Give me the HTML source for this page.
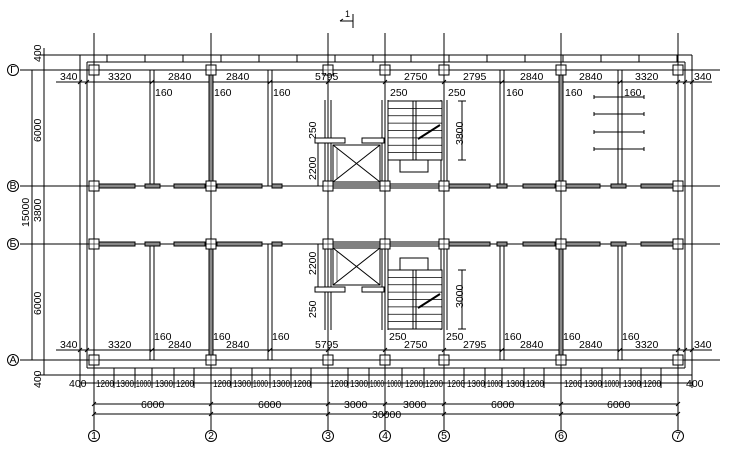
<!DOCTYPE html>
<html><head><meta charset="utf-8"><style>
html,body{margin:0;padding:0;background:#fff;}
svg{display:block;}
text{font-family:"Liberation Sans",sans-serif;font-size:10.5px;fill:#000;}
</style></head><body>
<svg id="s" width="740" height="450" viewBox="0 0 740 450" xmlns="http://www.w3.org/2000/svg" stroke="#000" stroke-width="1" fill="none">
<g id="g"></g>
<g stroke="none">
<text x="60" y="80">340</text><text x="108" y="80">3320</text><text x="168" y="80">2840</text><text x="226" y="80">2840</text>
<text x="315" y="80">5795</text><text x="404" y="80">2750</text><text x="463" y="80">2795</text><text x="520" y="80">2840</text>
<text x="579" y="80">2840</text><text x="635" y="80">3320</text><text x="694" y="80">340</text>
<text x="155" y="96">160</text><text x="214" y="96">160</text><text x="273" y="96">160</text><text x="390" y="96">250</text><text x="448" y="96">250</text>
<text x="506" y="96">160</text><text x="565" y="96">160</text><text x="624" y="96">160</text>
<text x="60" y="348">340</text><text x="108" y="348">3320</text><text x="168" y="348">2840</text><text x="226" y="348">2840</text>
<text x="315" y="348">5795</text><text x="404" y="348">2750</text><text x="463" y="348">2795</text><text x="520" y="348">2840</text>
<text x="579" y="348">2840</text><text x="635" y="348">3320</text><text x="694" y="348">340</text>
<text x="154" y="340">160</text><text x="213" y="340">160</text><text x="272" y="340">160</text><text x="389" y="340">250</text><text x="446" y="340">250</text>
<text x="504" y="340">160</text><text x="563" y="340">160</text><text x="622" y="340">160</text>
<g style="font-size:10.5px">
<text x="69" y="387">400</text>
<text x="96" y="387" textLength="18" lengthAdjust="spacingAndGlyphs">1200</text><text x="116" y="387" textLength="18" lengthAdjust="spacingAndGlyphs">1300</text><text x="136" y="387" textLength="15" lengthAdjust="spacingAndGlyphs">1000</text><text x="155" y="387" textLength="18" lengthAdjust="spacingAndGlyphs">1300</text><text x="176" y="387" textLength="18" lengthAdjust="spacingAndGlyphs">1200</text>
<text x="213" y="387" textLength="18" lengthAdjust="spacingAndGlyphs">1200</text><text x="233" y="387" textLength="18" lengthAdjust="spacingAndGlyphs">1300</text><text x="253" y="387" textLength="15" lengthAdjust="spacingAndGlyphs">1000</text><text x="272" y="387" textLength="18" lengthAdjust="spacingAndGlyphs">1300</text><text x="293" y="387" textLength="18" lengthAdjust="spacingAndGlyphs">1200</text>
<text x="330" y="387" textLength="18" lengthAdjust="spacingAndGlyphs">1200</text><text x="350" y="387" textLength="18" lengthAdjust="spacingAndGlyphs">1300</text><text x="370" y="387" textLength="14" lengthAdjust="spacingAndGlyphs">1000</text><text x="387" y="387" textLength="14" lengthAdjust="spacingAndGlyphs">1000</text><text x="405" y="387" textLength="18" lengthAdjust="spacingAndGlyphs">1200</text><text x="425" y="387" textLength="18" lengthAdjust="spacingAndGlyphs">1200</text>
<text x="447" y="387" textLength="18" lengthAdjust="spacingAndGlyphs">1200</text><text x="467" y="387" textLength="18" lengthAdjust="spacingAndGlyphs">1300</text><text x="487" y="387" textLength="15" lengthAdjust="spacingAndGlyphs">1000</text><text x="506" y="387" textLength="18" lengthAdjust="spacingAndGlyphs">1300</text><text x="526" y="387" textLength="18" lengthAdjust="spacingAndGlyphs">1200</text>
<text x="564" y="387" textLength="18" lengthAdjust="spacingAndGlyphs">1200</text><text x="584" y="387" textLength="18" lengthAdjust="spacingAndGlyphs">1300</text><text x="604" y="387" textLength="15" lengthAdjust="spacingAndGlyphs">1000</text><text x="623" y="387" textLength="18" lengthAdjust="spacingAndGlyphs">1300</text><text x="643" y="387" textLength="18" lengthAdjust="spacingAndGlyphs">1200</text><text x="686" y="387">400</text>
</g>
<text x="141" y="408">6000</text><text x="258" y="408">6000</text><text x="344" y="408">3000</text><text x="403" y="408">3000</text><text x="491" y="408">6000</text><text x="607" y="408">6000</text>
<text x="372" y="418">30000</text>
<text x="345" y="17" style="font-size:9px">1</text>
<g style="font-size:8px" text-anchor="middle">
<text x="94" y="439">1</text><text x="211" y="439">2</text><text x="328" y="439">3</text><text x="385" y="439">4</text><text x="444" y="439">5</text><text x="561" y="439">6</text><text x="678" y="439">7</text>
<text x="13" y="73">Г</text><text x="13" y="189">В</text><text x="13" y="247">Б</text><text x="13" y="363">А</text>
</g>
<text transform="translate(41,62) rotate(-90)">400</text>
<text transform="translate(41,142) rotate(-90)">6000</text>
<text transform="translate(29,227) rotate(-90)">15000</text>
<text transform="translate(41,222) rotate(-90)">3800</text>
<text transform="translate(41,315) rotate(-90)">6000</text>
<text transform="translate(41,388) rotate(-90)">400</text>
<text transform="translate(316,139) rotate(-90)">250</text>
<text transform="translate(316,180) rotate(-90)">2200</text>
<text transform="translate(463,145) rotate(-90)">3800</text>
<text transform="translate(316,275) rotate(-90)">2200</text>
<text transform="translate(316,318) rotate(-90)">250</text>
<text transform="translate(463,308) rotate(-90)">3000</text>
</g>
</svg>
<script>
const g=document.getElementById('g');const NS='http://www.w3.org/2000/svg';
function L(x1,y1,x2,y2,w,c){const e=document.createElementNS(NS,'line');e.setAttribute('x1',x1);e.setAttribute('y1',y1);e.setAttribute('x2',x2);e.setAttribute('y2',y2);if(w)e.setAttribute('stroke-width',w);if(c)e.setAttribute('stroke',c);g.appendChild(e);}
function R(x,y,w,h,f,s){const e=document.createElementNS(NS,'rect');e.setAttribute('x',x);e.setAttribute('y',y);e.setAttribute('width',w);e.setAttribute('height',h);e.setAttribute('fill',f||'#fff');if(s)e.setAttribute('stroke',s);g.appendChild(e);}
function C(x,y){const e=document.createElementNS(NS,'circle');e.setAttribute('cx',x);e.setAttribute('cy',y);e.setAttribute('r',5.5);e.setAttribute('fill','#fff');g.appendChild(e);}
const X=[94,211,328,385,444,561,678],Y=[70,186,244,360];
L(80,55,692,55);L(87,62,685,62);L(80,55,80,375);L(87,62,87,368);L(692,55,692,375);L(685,62,685,368);L(80,375,692,375);L(87,368,685,368);
for(let x=107;x<680;x+=38)L(x,55,x,62);
X.forEach(x=>{L(x,33,x,430);});
Y.forEach(y=>{L(20,y,720,y);});
L(32,70,32,360);L(44,48,44,375);L(26,70,80,70);L(26,360,80,360);L(38,55,80,55);L(38,375,80,375);
[55,70,186,244,360,375].forEach(y=>L(41,y,47,y));
L(56,82,712,82);L(56,350,712,350);
[80,87,152,211,270,328,385,444,502,561,620,678,685,692].forEach(x=>{L(x-2,84,x+2,80);L(x-2,352,x+2,348);});
L(80,383,692,383);L(94,404,678,404);L(94,414,678,414);
const bx=[80,94,114,135,152,174,194,211,231,252,270,291,311,328,348,369,385,402,424,444,464,485,502,524,544,561,581,602,620,641,661,678,692];
bx.forEach(x=>L(x,368,x,388));
X.forEach(x=>{L(x-2,406,x+2,402);L(x-2,416,x+2,412);});
[152,270,502,620].forEach(x=>{L(x-2,70,x-2,186);L(x+2,70,x+2,186);L(x-2,244,x-2,360);L(x+2,244,x+2,360);});
[211,561].forEach(x=>{R(x-2,70,4,116,'#888');R(x-2,244,4,116,'#888');});
[328,385,444].forEach(x=>{L(x-3,100,x-3,186);L(x+3,100,x+3,186);L(x-3,244,x-3,330);L(x+3,244,x+3,330);});
[186,244].forEach(y=>{
 [[98,135],[145,160],[174,205],[217,262],[272,282],[448,490],[497,507],[523,555],[566,600],[611,626],[641,673]].forEach(s=>R(s[0],y-2,s[1]-s[0],4,'#888'));
 L(332,y-2,440,y-2);L(332,y+2,440,y+2);
});
function stair(y0,dir){
 R(388,y0,54,59,'#fff');
 for(let i=0;i<=8;i++){const y=y0+i*59/8;L(388,y,442,y,0.8);}
 L(413,y0,413,y0+59);L(416,y0,416,y0+59);
 const ly=dir>0?y0+59:y0-12;R(400,ly,28,12,'none');
 L(462,y0,462,y0+59);L(458,y0,466,y0);L(458,y0+59,466,y0+59);
 L(418,y0+38,440,y0+24,2);
}
stair(101,1);stair(270,-1);
function elev(y0){R(333,y0,47,37,'#fff');L(333,y0,380,y0+37);L(380,y0,333,y0+37);L(337,y0+3,337,y0+34,0.6);}
elev(145);elev(248);
R(315,138,30,5,'#fff');R(362,138,22,5,'#fff');R(315,287,30,5,'#fff');R(362,287,22,5,'#fff');
L(318,143,318,186);L(318,244,318,287);
[97,114,132,149].forEach(y=>{L(594,y,644,y);L(594,y-2,594,y+2);L(644,y-2,644,y+2);});
X.forEach(x=>Y.forEach(y=>{R(x-5,y-5,10,10,'#fff');L(x-5,y,x+5,y,0.6);L(x,y-5,x,y+5,0.6);}));
X.forEach(x=>C(x,436));Y.forEach(y=>C(13,y));
L(340,21,353,21);L(353,14,353,28);L(343,19,340,21);
document.getElementById('s').appendChild(document.querySelector('#s > g[stroke="none"]'));
</script>
</body></html>
